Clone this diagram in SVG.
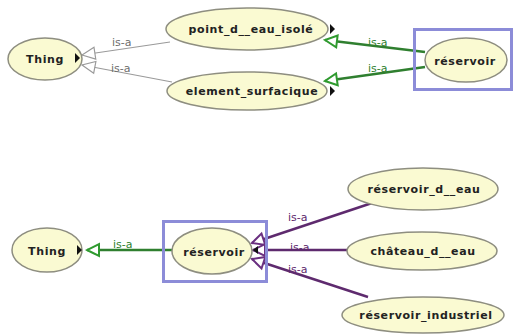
<svg xmlns="http://www.w3.org/2000/svg" width="514" height="334" viewBox="0 0 514 334">
<style>
.node ellipse{fill:#fafad2;stroke:#8e8e80;stroke-width:1.5}
.node text{font-family:"DejaVu Sans",sans-serif;font-weight:bold;font-size:11px;fill:#222;text-anchor:middle;letter-spacing:0.6px}
.exp{fill:#111}
.sel{fill:none;stroke:#8c8cd8;stroke-width:3}
.lbl{font-family:"DejaVu Sans",sans-serif;font-size:11px}
.gray{stroke:#9a9a9a;stroke-width:1.2;fill:none}
.green{stroke:#2f7f2f;stroke-width:2.5;fill:none}
.purple{stroke:#5e2a6e;stroke-width:2.5;fill:none}
</style>
<defs>
<marker id="mg" markerUnits="userSpaceOnUse" viewBox="-15 -8 17 16" refX="0" refY="0" markerWidth="17" markerHeight="16" orient="auto">
<path d="M0,0 L-13,-6 L-13,6 Z" fill="#fff" stroke="#9a9a9a" stroke-width="1.2"/>
</marker>
<marker id="mgr" markerUnits="userSpaceOnUse" viewBox="-15 -8 17 16" refX="0" refY="0" markerWidth="17" markerHeight="16" orient="auto">
<path d="M0,0 L-12,-6 L-12,6 Z" fill="#fff" stroke="#2f9a2f" stroke-width="2"/>
</marker>
<marker id="mp" markerUnits="userSpaceOnUse" viewBox="-15 -8 17 16" refX="0" refY="0" markerWidth="17" markerHeight="16" orient="auto">
<path d="M0,0 L-12,-6 L-12,6 Z" fill="#fff" stroke="#6a2f80" stroke-width="2"/>
</marker>
</defs>
<rect width="514" height="334" fill="#fff"/>
<g id="connectors">
<line class="gray" x1="170" y1="42" x2="82" y2="55" marker-end="url(#mg)"/>
<line class="gray" x1="172" y1="82" x2="82" y2="65" marker-end="url(#mg)"/>
<line class="green" x1="425" y1="52" x2="325" y2="40" marker-end="url(#mgr)"/>
<line class="green" x1="425" y1="67" x2="325" y2="81" marker-end="url(#mgr)"/>
<line class="green" x1="172" y1="250" x2="87" y2="250" marker-end="url(#mgr)"/>
<line class="purple" x1="372" y1="203" x2="252" y2="243" marker-end="url(#mp)"/>
<line class="purple" x1="347" y1="250" x2="253" y2="250" marker-end="url(#mp)"/>
<line class="purple" x1="368" y1="297" x2="252" y2="259" marker-end="url(#mp)"/>
<g class="lbl">
<text x="112" y="46" fill="#6e6e6e">is-a</text>
<text x="111" y="72" fill="#6e6e6e">is-a</text>
<text x="368" y="46" fill="#2f7f2f">is-a</text>
<text x="368" y="72" fill="#2f7f2f">is-a</text>
<text x="113" y="248" fill="#2f7f2f">is-a</text>
<text x="288" y="221" fill="#5e2a6e">is-a</text>
<text x="290" y="251" fill="#5e2a6e">is-a</text>
<text x="288" y="273" fill="#5e2a6e">is-a</text>
</g>
</g>
<g id="thing-top" class="node">
<ellipse cx="45" cy="59" rx="37" ry="21"/>
<text x="45" y="63">Thing</text>
<path class="exp" d="M75,53 L80,58 L75,63 Z"/>
</g>
<g id="point-d-eau-isole" class="node">
<ellipse cx="247" cy="29" rx="81" ry="21"/>
<text x="251" y="33">point_d__eau_isolé</text>
<path class="exp" d="M330,24 L335,29 L330,34 Z"/>
</g>
<g id="element-surfacique" class="node">
<ellipse cx="247" cy="91" rx="80" ry="19"/>
<text x="252" y="95">element_surfacique</text>
<path class="exp" d="M330,86 L335,91 L330,96 Z"/>
</g>
<g id="reservoir-top" class="node">
<rect class="sel" x="414.5" y="29.5" width="97" height="60"/>
<ellipse cx="466" cy="60" rx="41" ry="22"/>
<text x="465" y="65">réservoir</text>
</g>
<g id="thing-bottom" class="node">
<ellipse cx="47" cy="250" rx="35" ry="22"/>
<text x="47" y="255">Thing</text>
<path class="exp" d="M77,245 L82,250 L77,255 Z"/>
</g>
<g id="reservoir-bottom" class="node">
<rect class="sel" x="163.5" y="221.5" width="103" height="60"/>
<ellipse cx="212" cy="251" rx="40" ry="23"/>
<text x="214" y="256">réservoir</text>
<path class="exp" d="M258,246 L253,250 L258,254 Z"/>
</g>
<g id="reservoir-d-eau" class="node">
<ellipse cx="423" cy="189" rx="75" ry="21"/>
<text x="424" y="193">réservoir_d__eau</text>
</g>
<g id="chateau-d-eau" class="node">
<ellipse cx="422" cy="251" rx="75" ry="19"/>
<text x="423" y="255">château_d__eau</text>
</g>
<g id="reservoir-industriel" class="node">
<ellipse cx="423" cy="315" rx="81" ry="18"/>
<text x="426" y="319">réservoir_industriel</text>
</g>
</svg>
